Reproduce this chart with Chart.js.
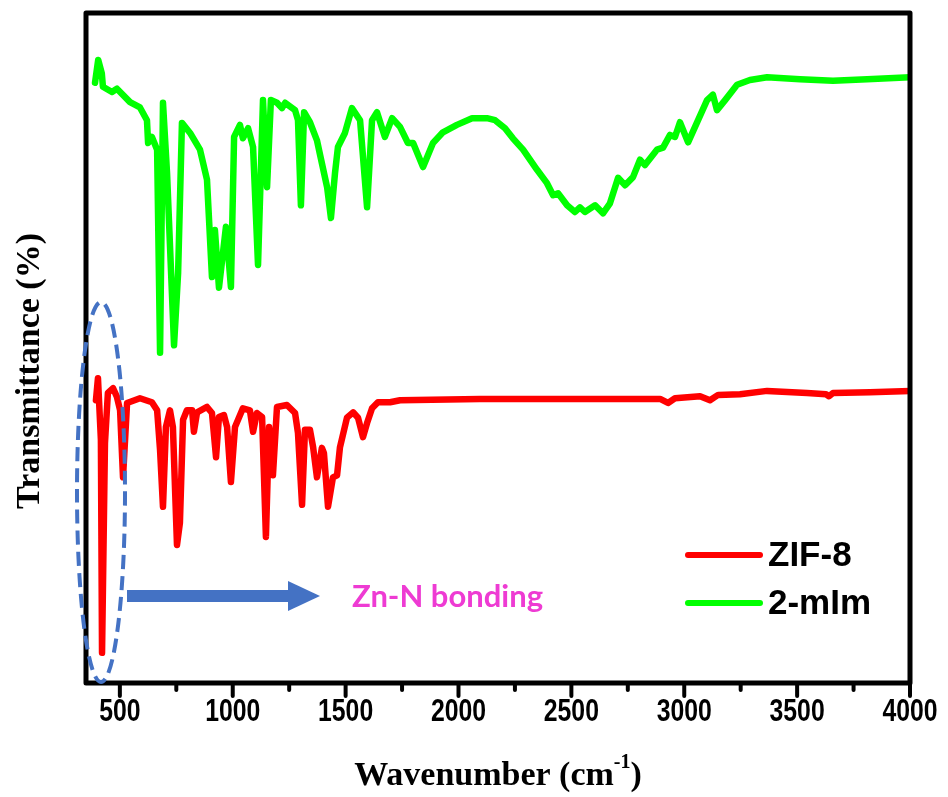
<!DOCTYPE html>
<html>
<head>
<meta charset="utf-8">
<script src="https://cdn.jsdelivr.net/npm/chart.js@4"></script>
<style>
  body { margin: 0; background: #fff; }
  canvas { display: block; }
</style>
</head>
<body>
<canvas id="ftirChart" width="948" height="797"></canvas>
<script>
// FTIR spectra (wavenumber in cm-1, transmittance in arbitrary %)
var zifWavenumber = [394, 403, 416, 421, 434, 447, 470, 487, 501, 514, 532, 589, 642, 665, 678, 691, 704, 722, 735, 753, 766, 780, 797, 820, 828, 842, 886, 908, 926, 939, 961, 975, 992, 1010, 1045, 1076, 1090, 1107, 1130, 1147, 1161, 1178, 1196, 1240, 1276, 1289, 1307, 1320, 1342, 1356, 1373, 1395, 1404, 1422, 1444, 1462, 1475, 1506, 1533, 1555, 1577, 1595, 1617, 1643, 1697, 1741, 2095, 2627, 2893, 2928, 2959, 3070, 3114, 3150, 3247, 3367, 3544, 3628, 3641, 3659, 3823, 4000];
var zifTransmittance = [42.2, 45.5, 36.3, 4.5, 35.8, 43.3, 44.0, 42.7, 40.7, 30.7, 41.8, 42.5, 41.9, 40.7, 34.8, 26.3, 38.2, 40.7, 38.2, 20.6, 23.9, 39.3, 40.7, 40.7, 37.5, 40.4, 41.2, 40.3, 33.7, 39.7, 40.0, 38.2, 30.0, 38.2, 41.0, 40.7, 37.5, 40.3, 39.7, 21.8, 38.2, 31.0, 41.2, 41.5, 40.3, 37.3, 26.6, 37.8, 37.8, 35.2, 30.7, 35.1, 34.3, 26.3, 30.7, 31.0, 35.2, 39.6, 40.4, 39.6, 36.7, 38.8, 41.0, 41.9, 41.9, 42.2, 42.4, 42.4, 42.4, 41.8, 42.5, 42.8, 42.2, 43.0, 43.1, 43.6, 43.3, 43.1, 42.8, 43.3, 43.4, 43.6];

var mimWavenumber = [390, 404, 420, 425, 465, 487, 545, 589, 620, 625, 642, 665, 678, 691, 709, 740, 758, 775, 811, 855, 886, 908, 921, 939, 970, 992, 1006, 1032, 1045, 1068, 1090, 1112, 1134, 1152, 1169, 1196, 1218, 1232, 1276, 1289, 1302, 1316, 1342, 1373, 1387, 1418, 1435, 1453, 1466, 1497, 1528, 1564, 1595, 1617, 1639, 1674, 1706, 1741, 1776, 1799, 1843, 1887, 1931, 1993, 2060, 2126, 2162, 2206, 2241, 2286, 2348, 2392, 2419, 2441, 2481, 2516, 2538, 2560, 2605, 2640, 2671, 2707, 2738, 2773, 2804, 2826, 2879, 2906, 2937, 2959, 2981, 3017, 3101, 3127, 3145, 3181, 3234, 3291, 3367, 3513, 3659, 3810, 4000];
var mimTransmittance = [89.6, 93.0, 91.0, 89.0, 88.2, 88.7, 86.7, 85.9, 84.0, 80.6, 81.5, 79.6, 49.3, 86.6, 76.1, 50.4, 61.2, 83.6, 82.1, 79.6, 75.1, 60.6, 67.6, 59.0, 68.1, 59.1, 81.5, 83.3, 81.3, 82.8, 80.0, 62.4, 87.0, 74.0, 87.0, 86.6, 85.8, 86.6, 85.5, 84.0, 71.3, 85.2, 83.7, 81.0, 78.8, 74.0, 69.4, 76.1, 80.0, 82.1, 85.8, 84.0, 71.0, 84.0, 85.2, 81.5, 84.3, 83.0, 80.6, 80.6, 77.0, 80.6, 82.2, 83.3, 84.3, 84.3, 84.0, 82.8, 81.3, 79.6, 76.6, 74.6, 72.8, 73.1, 71.3, 70.3, 71.0, 70.3, 71.3, 70.1, 71.6, 75.4, 74.3, 75.5, 78.1, 77.3, 79.6, 79.9, 81.8, 81.5, 83.7, 80.7, 87.0, 87.8, 85.5, 87.0, 89.3, 90.0, 90.4, 90.1, 89.9, 90.1, 90.4];

var seriesNames = ['ZIF-8', '2-mIm'];
var majorTicks = [500, 1000, 1500, 2000, 2500, 3000, 3500, 4000];
var minorTicks = [750, 1250, 1750, 2250, 2750, 3250, 3750];

function toPoints(xs, ys) {
  var pts = [];
  for (var i = 0; i < xs.length; i++) {
    pts.push({ x: xs[i], y: ys[i] });
  }
  return pts;
}

var blue = '#4472C4';

var decorations = {
  id: 'decorations',
  afterDatasetsDraw: function(chart) {
    var ctx = chart.ctx;
    var area = chart.chartArea;
    var xs = chart.scales.x;
    ctx.save();

    // box round the plot
    ctx.strokeStyle = '#000';
    ctx.lineWidth = 5;
    ctx.lineJoin = 'round';
    ctx.strokeRect(area.left, area.top, area.right - area.left, area.bottom - area.top);

    // tick marks under the bottom axis
    ctx.lineCap = 'round';
    ctx.lineWidth = 4;
    majorTicks.forEach(function(v) {
      var px = xs.getPixelForValue(v);
      ctx.beginPath();
      ctx.moveTo(px, area.bottom);
      ctx.lineTo(px, area.bottom + 13);
      ctx.stroke();
    });
    minorTicks.forEach(function(v) {
      var px = xs.getPixelForValue(v);
      ctx.beginPath();
      ctx.moveTo(px, area.bottom);
      ctx.lineTo(px, area.bottom + 7);
      ctx.stroke();
    });

    // tick labels (narrow bold look: squeeze Liberation Sans)
    ctx.fillStyle = '#000';
    ctx.font = 'bold 31px "Liberation Sans", Arial, sans-serif';
    ctx.textAlign = 'center';
    ctx.textBaseline = 'middle';
    majorTicks.forEach(function(v) {
      ctx.save();
      ctx.translate(xs.getPixelForValue(v), 712);
      ctx.scale(0.8, 1);
      ctx.fillText(String(v), 0, 0);
      ctx.restore();
    });

    // x title with superscript
    ctx.font = 'bold 34px "Liberation Serif", "Times New Roman", serif';
    ctx.textAlign = 'left';
    ctx.textBaseline = 'alphabetic';
    var main = 'Wavenumber (cm';
    var sup = '-1';
    var wMain = ctx.measureText(main).width;
    var wClose = ctx.measureText(')').width;
    ctx.font = 'bold 20px "Liberation Serif", "Times New Roman", serif';
    var wSup = ctx.measureText(sup).width;
    var startX = 498 - (wMain + wSup + wClose) / 2;
    ctx.font = 'bold 34px "Liberation Serif", "Times New Roman", serif';
    ctx.fillText(main, startX, 785);
    ctx.fillText(')', startX + wMain + wSup, 785);
    ctx.font = 'bold 20px "Liberation Serif", "Times New Roman", serif';
    ctx.fillText(sup, startX + wMain, 768);

    // y title
    ctx.save();
    ctx.translate(30, 371);
    ctx.rotate(-Math.PI / 2);
    ctx.font = 'bold 34px "Liberation Serif", "Times New Roman", serif';
    ctx.textAlign = 'center';
    ctx.textBaseline = 'middle';
    ctx.fillText('Transmittance (%)', 0, 0);
    ctx.restore();

    // dashed ellipse round the Zn-N band
    ctx.strokeStyle = blue;
    ctx.lineWidth = 4;
    ctx.lineCap = 'butt';
    ctx.setLineDash([14, 7]);
    ctx.beginPath();
    ctx.ellipse(101, 492, 24, 190, 0, 0, Math.PI * 2);
    ctx.stroke();
    ctx.setLineDash([]);

    // arrow
    ctx.fillStyle = blue;
    ctx.fillRect(127, 590, 163, 12);
    ctx.beginPath();
    ctx.moveTo(288, 581);
    ctx.lineTo(320, 596);
    ctx.lineTo(288, 611);
    ctx.closePath();
    ctx.fill();

    ctx.fillStyle = '#EE3BD3';
    ctx.font = 'bold 31px Lato, "Open Sans", sans-serif';
    ctx.textAlign = 'left';
    ctx.textBaseline = 'middle';
    ctx.fillText('Zn-N bonding', 352, 597);

    // legend
    var legendY = [555, 603];
    chart.data.datasets.forEach(function(ds, i) {
      ctx.strokeStyle = ds.borderColor;
      ctx.lineWidth = 6;
      ctx.lineCap = 'round';
      ctx.beginPath();
      ctx.moveTo(688, legendY[i]);
      ctx.lineTo(760, legendY[i]);
      ctx.stroke();
      ctx.fillStyle = '#000';
      ctx.font = 'bold 35px "Liberation Sans", Arial, sans-serif';
      ctx.fillText(ds.label, 768, legendY[i] + 1);
    });

    ctx.restore();
  }
};

var chart = new Chart(document.getElementById('ftirChart'), {
  type: 'line',
  data: {
    datasets: [{
      label: seriesNames[0],
      data: toPoints(zifWavenumber, zifTransmittance),
      borderColor: '#FF0000',
      borderWidth: 6.5,
      pointRadius: 0,
      tension: 0,
      borderJoinStyle: 'round',
      borderCapStyle: 'round'
    }, {
      label: seriesNames[1],
      data: toPoints(mimWavenumber, mimTransmittance),
      borderColor: '#00FF00',
      borderWidth: 6.5,
      pointRadius: 0,
      tension: 0,
      borderJoinStyle: 'round',
      borderCapStyle: 'round'
    }]
  },
  options: {
    responsive: false,
    animation: false,
    devicePixelRatio: 1,
    layout: { padding: { left: 86, top: 13, right: 38, bottom: 114 } },
    plugins: {
      legend: { display: false },
      tooltip: { enabled: false }
    },
    scales: {
      x: { type: 'linear', min: 350, max: 4000, display: false },
      y: { min: 0, max: 100, display: false }
    }
  },
  plugins: [decorations]
});
</script>
</body>
</html>
